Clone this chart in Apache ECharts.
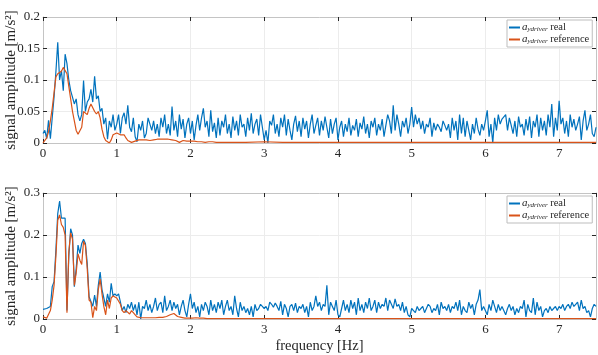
<!DOCTYPE html>
<html><head><meta charset="utf-8">
<script src="https://cdn.jsdelivr.net/npm/echarts@6/dist/echarts.min.js"></script>
<style>html,body{margin:0;padding:0;background:#fff}#c{width:598px;height:355px}</style>
</head><body><div id="c"></div>
<script>
// frequency bins (Hz), step 0.025 from 0 to 7.5
const freqStep = 0.025;
// reference series: dense bins up to 2.5 Hz, then a sparse flat tail
const refTailFreq = [2.75, 3.0, 3.25, 3.5, 3.75, 4.0, 4.25, 4.5, 4.75, 5.0, 5.25, 5.5, 5.75, 6.0, 6.25, 6.5, 6.75, 7.0, 7.25, 7.5];

const xTicks = [0, 1, 2, 3, 4, 5, 6, 7];
const topYTicks = [0, 0.05, 0.1, 0.15, 0.2];
const botYTicks = [0, 0.1, 0.2, 0.3];

const topReal = [
0.015,0.020,0.007,0.036,0.007,0.040,0.073,0.113,0.160,0.100,
0.115,0.083,0.141,0.126,0.100,0.083,0.080,0.062,0.070,0.045,
0.035,0.045,0.099,0.050,0.065,0.070,0.085,0.065,0.106,0.070,
0.075,0.050,0.055,0.030,0.040,0.006,0.035,0.025,0.045,0.020,
0.030,0.045,0.015,0.040,0.048,0.030,0.060,0.025,0.018,0.040,
0.010,0.002,0.030,0.020,0.035,0.008,0.015,0.040,0.038,0.020,
0.035,0.015,0.030,0.010,0.040,0.025,0.045,0.015,0.030,0.012,
0.058,0.020,0.035,0.010,0.045,0.022,0.038,0.008,0.030,0.040,
0.015,0.035,0.005,0.028,0.045,0.020,0.040,0.055,0.025,0.035,
0.010,0.052,0.018,0.032,0.008,0.040,0.012,0.035,0.025,0.045,
0.015,0.030,0.008,0.042,0.020,0.035,0.012,0.045,0.025,0.030,
0.010,0.040,0.020,0.047,0.015,0.030,0.038,0.012,0.045,0.025,
0.005,0.020,0.000,0.035,0.028,0.045,0.015,0.030,0.010,0.040,
0.025,0.045,0.012,0.038,0.020,0.005,0.030,0.043,0.018,0.035,
0.010,0.040,0.022,0.035,0.008,0.030,0.045,0.015,0.028,0.040,
0.012,0.035,0.020,0.042,0.025,0.008,0.038,0.015,0.030,0.040,
0.005,0.025,0.035,0.010,0.030,0.018,0.040,0.012,0.028,0.020,
0.038,0.010,0.032,0.022,0.042,0.015,0.030,0.008,0.035,0.025,
0.040,0.012,0.030,0.020,0.038,0.010,0.028,0.045,0.035,0.015,
0.060,0.020,0.045,0.030,0.010,0.035,0.025,0.040,0.015,0.030,
0.057,0.025,0.045,0.030,0.040,0.022,0.035,0.015,0.030,0.025,
0.040,0.010,0.032,0.020,0.030,0.025,0.018,0.035,0.028,0.020,
0.030,0.008,0.040,0.020,0.035,0.005,0.045,0.015,0.040,0.010,
0.035,0.020,0.005,0.030,0.015,0.040,0.022,0.012,0.030,0.020,
0.035,0.052,0.010,0.030,0.000,0.040,0.020,0.045,0.030,0.038,
0.035,0.045,0.020,0.040,0.028,0.015,0.035,0.010,0.042,0.025,
0.030,0.012,0.038,0.020,0.042,0.008,0.035,0.025,0.045,0.010,
0.040,0.020,0.035,0.012,0.045,0.025,0.062,0.010,0.040,0.020,
0.067,0.030,0.040,0.015,0.035,0.010,0.045,0.025,0.038,0.020,
0.030,0.042,0.005,0.035,0.052,0.020,0.030,0.045,0.015,0.010,
0.025
];

const topRefDense = [
0.000,0.001,0.008,0.018,0.035,0.055,0.080,0.105,0.110,0.112,
0.114,0.120,0.122,0.110,0.090,0.070,0.050,0.035,0.020,0.014,
0.014,0.025,0.050,0.050,0.045,0.055,0.062,0.060,0.050,0.046,
0.050,0.040,0.022,0.010,0.004,0.001,0.000,0.005,0.013,0.016,
0.016,0.015,0.013,0.012,0.013,0.008,0.004,0.002,0.001,0.002,
0.003,0.004,0.005,0.004,0.005,0.004,0.005,0.006,0.004,0.005,
0.005,0.006,0.006,0.005,0.006,0.007,0.006,0.005,0.006,0.005,
0.005,0.004,0.004,0.002,0.001,0.003,0.004,0.003,0.003,0.002,
0.003,0.002,0.003,0.002,0.002,0.003,0.002,0.002,0.001,0.002,
0.002,0.001,0.002,0.001,0.001,0.002,0.001,0.001,0.001,0.001,
0.001
];
const topRefTail = [0.001,0.002,0.001,0.001,0.001,0.001,0.001,0.001,0.001,0.001,0.001,0.001,0.001,0.001,0.001,0.001,0.001,0.001,0.001,0.001];

const botReal = [
0.023,0.021,0.025,0.021,0.030,0.077,0.089,0.164,0.251,0.281,
0.240,0.242,0.240,0.020,0.150,0.215,0.200,0.077,0.120,0.176,
0.156,0.180,0.190,0.180,0.132,0.053,0.050,0.030,0.057,0.030,
0.080,0.112,0.070,0.050,0.030,0.060,0.040,0.085,0.055,0.060,
0.055,0.060,0.040,0.020,0.030,0.015,0.035,0.025,0.040,0.020,
0.035,0.010,0.040,0.000,0.030,0.025,0.045,0.020,0.035,0.015,
0.030,0.050,0.020,0.035,0.040,0.015,0.055,0.020,0.030,0.045,
0.020,0.040,0.025,0.035,0.010,0.030,0.045,0.020,0.005,0.035,
0.060,0.025,0.040,0.015,0.030,0.005,0.035,0.020,0.040,0.030,
0.010,0.045,0.020,0.035,0.015,0.040,0.025,0.045,0.010,0.030,
0.045,0.020,0.030,0.010,0.055,0.025,0.005,0.040,0.020,0.030,
0.015,0.025,0.010,0.030,0.005,0.035,0.020,0.025,0.035,0.030,
0.025,0.030,0.020,0.040,0.035,0.028,0.038,0.030,0.020,0.042,
0.010,0.035,0.025,0.005,0.030,0.035,0.020,0.038,0.015,0.030,
0.025,0.035,0.015,0.030,0.005,0.040,0.020,0.030,0.055,0.030,
0.040,0.020,0.035,0.030,0.080,0.010,0.040,0.030,0.020,0.045,
0.010,0.005,0.025,0.045,0.020,0.035,0.015,0.045,0.025,0.040,
0.010,0.050,0.020,0.035,0.015,0.040,0.025,0.050,0.020,0.030,
0.045,0.015,0.040,0.025,0.035,0.030,0.050,0.020,0.045,0.035,
0.025,0.048,0.030,0.035,0.020,0.040,0.015,0.030,0.010,0.005,
0.025,0.020,0.015,0.030,0.020,0.025,0.030,0.015,0.025,0.035,
0.030,0.015,0.025,0.020,0.035,0.010,0.040,0.025,0.030,0.020,
0.035,0.015,0.030,0.025,0.040,0.020,0.045,0.010,0.030,0.020,
0.015,0.040,0.025,0.035,0.010,0.035,0.045,0.070,0.020,0.030,
0.030,0.010,0.035,0.020,0.045,0.030,0.015,0.035,0.020,0.030,
0.030,0.010,0.025,0.035,0.020,0.030,0.010,0.025,0.015,0.030,
0.025,0.045,0.005,0.035,0.020,0.015,0.050,0.010,0.040,0.020,
0.030,0.005,0.020,0.025,0.015,0.030,0.020,0.025,0.030,0.020,
0.030,0.025,0.035,0.020,0.030,0.035,0.025,0.040,0.030,0.035,
0.040,0.020,0.045,0.025,0.030,0.015,0.020,0.005,0.025,0.035,
0.030
];

const botRefDense = [
0.005,0.005,0.002,0.004,0.020,0.045,0.080,0.150,0.235,0.248,
0.225,0.218,0.200,0.015,0.160,0.205,0.190,0.080,0.110,0.155,
0.140,0.130,0.185,0.175,0.120,0.045,0.040,0.003,0.030,0.020,
0.070,0.095,0.060,0.030,0.010,0.045,0.025,0.050,0.055,0.052,
0.050,0.048,0.035,0.020,0.015,0.020,0.018,0.012,0.020,0.015,
0.010,0.005,0.004,0.003,0.004,0.003,0.004,0.003,0.004,0.003,
0.004,0.003,0.005,0.004,0.003,0.004,0.005,0.006,0.008,0.010,
0.012,0.013,0.010,0.006,0.003,0.004,0.003,0.002,0.003,0.002,
0.003,0.002,0.002,0.003,0.002,0.002,0.001,0.002,0.001,0.001,
0.001,0.001,0.002,0.001,0.001,0.001,0.001,0.001,0.001,0.001,
0.001
];
const botRefTail = [0.001,0.001,0.001,0.001,0.001,0.001,0.001,0.001,0.001,0.001,0.001,0.001,0.001,0.001,0.001,0.001,0.001,0.001,0.001,0.001];

const seriesNames = ['real', 'reference'];
const colors = ['#0072BD', '#D95319'];

function binFreq(i) { return Math.round(i * freqStep * 1000) / 1000; }
function realPairs(vals) { return vals.map((v, i) => [binFreq(i), v]); }
function refPairs(dense, tail) {
  const out = dense.map((v, i) => [binFreq(i), v]);
  tail.forEach((v, i) => out.push([refTailFreq[i], v]));
  return out;
}

const FONT = 'Liberation Serif';
const TXT = '#262626';
const BOX = '#c4c4c4';

function xAxes(gridIndex) {
  return [{
    type: 'value', gridIndex, min: 0, max: 7.5, interval: 1,
    axisLine: { show: true, onZero: false, lineStyle: { color: BOX } },
    axisTick: { show: true, inside: true, length: 4, lineStyle: { color: TXT } },
    axisLabel: { show: true, showMaxLabel: false, color: TXT, fontFamily: FONT, fontSize: 13, margin: 4,
      formatter: v => xTicks.includes(v) ? String(v) : '' },
    splitLine: { show: true, lineStyle: { color: '#ececec', width: 1 } },
    name: gridIndex === 1 ? 'frequency [Hz]' : '', nameLocation: 'middle', nameGap: 20, nameMoveOverlap: false,
    nameTextStyle: { color: TXT, fontFamily: FONT, fontSize: 14.5 }
  }, {
    type: 'value', gridIndex, position: 'top', min: 0, max: 7.5, interval: 1,
    axisLine: { show: true, onZero: false, lineStyle: { color: BOX } },
    axisTick: { show: true, inside: true, length: 4, lineStyle: { color: TXT } },
    axisLabel: { show: false }, splitLine: { show: false }
  }];
}
function yAxes(gridIndex, max, interval, ticks) {
  return [{
    type: 'value', gridIndex, min: 0, max, interval,
    axisLine: { show: true, onZero: false, lineStyle: { color: BOX } },
    axisTick: { show: true, inside: true, length: 4, lineStyle: { color: TXT } },
    axisLabel: { color: TXT, fontFamily: FONT, fontSize: 13, margin: 3,
      formatter: v => { const t = ticks.find(k => Math.abs(k - v) < 1e-9); return t === undefined ? '' : String(t); } },
    splitLine: { show: true, lineStyle: { color: '#ececec', width: 1 } },
    name: 'signal amplitude [m/s²]', nameLocation: 'middle', nameGap: 24, nameMoveOverlap: false,
    nameTextStyle: { color: TXT, fontFamily: FONT, fontSize: 15 }
  }, {
    type: 'value', gridIndex, position: 'right', min: 0, max, interval,
    axisLine: { show: true, onZero: false, lineStyle: { color: BOX } },
    axisTick: { show: true, inside: true, length: 4, lineStyle: { color: TXT } },
    axisLabel: { show: false }, splitLine: { show: false }
  }];
}

function legendFor(top) {
  return {
    data: seriesNames, left: 507, top, orient: 'vertical',
    backgroundColor: '#fff', borderColor: '#bdbdbd', borderWidth: 1, borderRadius: 0,
    padding: [2, 3, 2, 2], itemGap: 1, itemWidth: 11, itemHeight: 2, icon: 'rect',
    formatter: n => '{i|a}{s|ydriver} {t|' + n + '}',
    textStyle: {
      color: TXT, fontFamily: FONT, fontSize: 10, padding: [0, 0, 0, -3],
      rich: {
        i: { fontFamily: FONT, fontStyle: 'italic', fontSize: 11, color: TXT },
        s: { fontFamily: FONT, fontStyle: 'italic', fontSize: 7, color: TXT, padding: [4, 0, 0, 0] },
        t: { fontFamily: FONT, fontSize: 10.5, color: TXT }
      }
    }
  };
}

const chart = echarts.init(document.getElementById('c'), null, { renderer: 'canvas' });
chart.setOption({
  animation: false,
  backgroundColor: '#fff',
  color: colors,
  grid: [
    { left: 43, right: 2, top: 17, height: 126, containLabel: false, outerBoundsMode: 'none' },
    { left: 43, right: 2, top: 193, height: 126, containLabel: false, outerBoundsMode: 'none' }
  ],
  xAxis: [...xAxes(0), ...xAxes(1)],
  yAxis: [...yAxes(0, 0.2, 0.05, topYTicks), ...yAxes(1, 0.3, 0.1, botYTicks)],
  legend: [legendFor(20), legendFor(196)],
  series: [
    { name: 'real', type: 'line', xAxisIndex: 0, yAxisIndex: 0, data: realPairs(topReal), showSymbol: false, lineStyle: { width: 1.2, color: colors[0] }, itemStyle: { color: colors[0] } },
    { name: 'reference', type: 'line', xAxisIndex: 0, yAxisIndex: 0, data: refPairs(topRefDense, topRefTail), showSymbol: false, lineStyle: { width: 1.2, color: colors[1] }, itemStyle: { color: colors[1] } },
    { name: 'real', type: 'line', xAxisIndex: 2, yAxisIndex: 2, data: realPairs(botReal), showSymbol: false, lineStyle: { width: 1.2, color: colors[0] }, itemStyle: { color: colors[0] } },
    { name: 'reference', type: 'line', xAxisIndex: 2, yAxisIndex: 2, data: refPairs(botRefDense, botRefTail), showSymbol: false, lineStyle: { width: 1.2, color: colors[1] }, itemStyle: { color: colors[1] } }
  ]
});
</script></body></html>
